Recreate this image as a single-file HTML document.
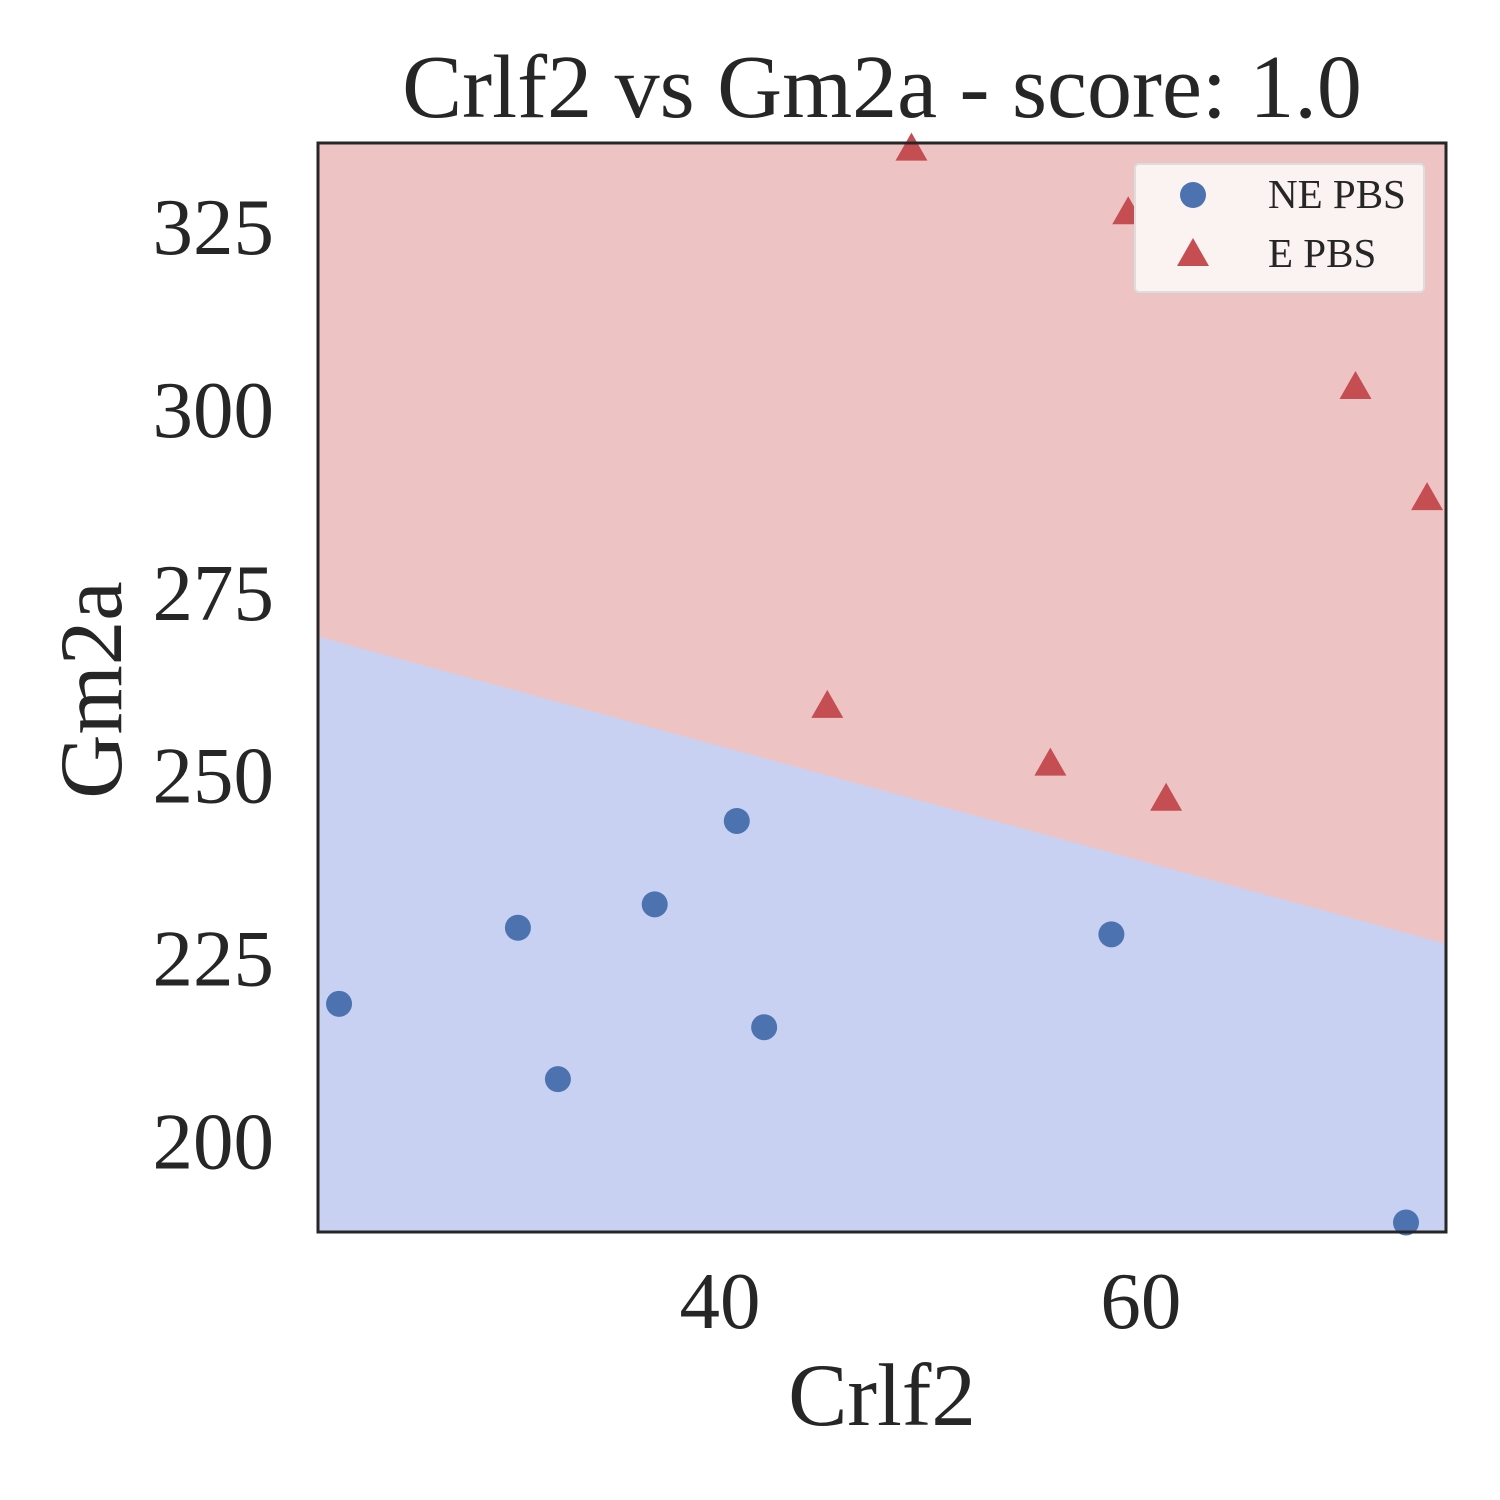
<!DOCTYPE html>
<html><head><meta charset="utf-8"><style>
html,body{margin:0;padding:0;background:#fff}
svg{display:block}
text{font-family:"Liberation Serif",serif;fill:#262626}
</style></head><body>
<svg id="chart" width="1500" height="1500"></svg>
<script>
const xDomain=[20.9,74.5];
const yDomain=[188.3,337.2];
const xTicks=[40,60];
const yTicks=[200,225,250,275,300,325];
const neX=[21.9,30.4,32.3,36.9,40.8,42.1,58.6,72.6];
const neY=[219.5,229.9,209.2,233.1,244.5,216.3,229.0,189.6];
const eX=[49.1,59.4,70.2,73.6,45.1,55.7,61.2];
const eY=[336.3,327.6,303.7,288.5,260.1,252.2,247.4];
const boundaryY=[269.7,227.7]; // boundary at xDomain[0], xDomain[1]

const L=318,R=1446,T=143,B=1232;
const sx=v=>L+(v-xDomain[0])/(xDomain[1]-xDomain[0])*(R-L);
const sy=v=>B-(v-yDomain[0])/(yDomain[1]-yDomain[0])*(B-T);
const NS="http://www.w3.org/2000/svg";
const svg=document.getElementById('chart');
function mk(tag,attrs,parent){const e=document.createElementNS(NS,tag);for(const k in attrs)e.setAttribute(k,attrs[k]);(parent||svg).appendChild(e);return e;}

const bgRed=mk('rect',{x:L,y:T,width:R-L,height:B-T,fill:'#edc4c3'});


const y0=sy(boundaryY[0]),y1=sy(boundaryY[1]);
const bgBlue=mk('polygon',{points:`${L},${y0} ${R},${y1} ${R},${B} ${L},${B}`,fill:'#c8d1f1'});



for(let i=0;i<neX.length;i++){
  const c=mk('circle',{cx:sx(neX[i]),cy:sy(neY[i]),r:13,fill:'#4c72b0'});
  
  
}
for(let i=0;i<eX.length;i++){
  const x=sx(eX[i]),y=sy(eY[i]);
  const t=mk('polygon',{points:`${x},${y-17} ${x-16},${y+11} ${x+16},${y+11}`,fill:'#c44e52'});
  
  
}
const frame=mk('rect',{x:L,y:T,width:R-L,height:B-T,fill:'none',stroke:'#262626','stroke-width':3});



xTicks.forEach(v=>{
  const t=mk('text',{x:sx(v),y:1328,'font-size':81,'text-anchor':'middle'});t.textContent=v;
  
  
});
yTicks.forEach(v=>{
  const t=mk('text',{x:274,y:sy(v)+22,'font-size':81,'text-anchor':'end'});t.textContent=v;
  
  
});
const title=mk('text',{x:882,y:117,'font-size':90,'text-anchor':'middle'});title.textContent='Crlf2 vs Gm2a - score: 1.0';


const xl=mk('text',{x:882,y:1425,'font-size':89,'text-anchor':'middle'});xl.textContent='Crlf2';


const yl=mk('text',{x:0,y:0,'font-size':89,'text-anchor':'middle',transform:'translate(121,690) rotate(-90)'});yl.textContent='Gm2a';



const lg=mk('g',{});


mk('rect',{x:1135,y:164,width:289,height:128,rx:4,fill:'#fbf2f2',stroke:'#dddddd','stroke-width':2},lg);
mk('circle',{cx:1193,cy:195,r:13,fill:'#4c72b0'},lg);
mk('polygon',{points:'1193,238 1177,266 1209,266',fill:'#c44e52'},lg);
const l1=mk('text',{x:1268,y:208,'font-size':41},lg);l1.textContent='NE PBS';


const l2=mk('text',{x:1268,y:267,'font-size':41},lg);l2.textContent='E PBS';


</script>
</body></html>
